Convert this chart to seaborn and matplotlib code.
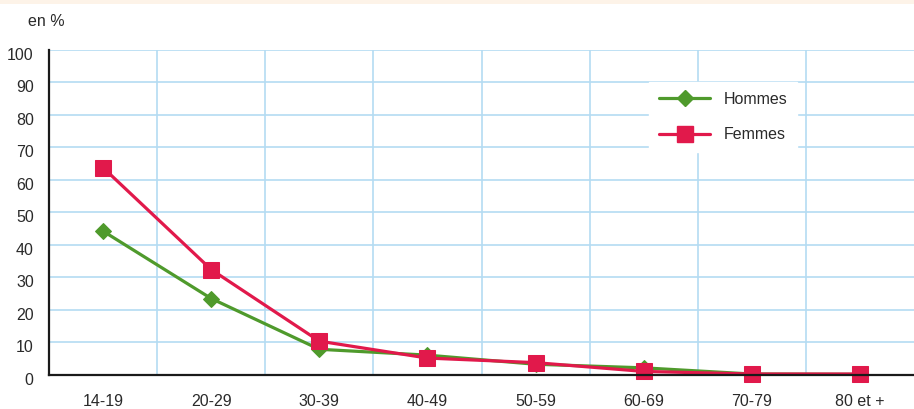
import matplotlib
matplotlib.use("Agg")
import matplotlib.pyplot as plt
import matplotlib.patches as mpatches
from matplotlib.lines import Line2D
from matplotlib.transforms import ScaledTranslation
import seaborn as sns
import pandas as pd

# Age groups and share (%) per sex
age_groups = ["14-19", "20-29", "30-39", "40-49", "50-59", "60-69", "70-79", "80 et +"]
hommes = [44.2, 23.5, 7.9, 6.1, 3.3, 2.2, 0.3, 0.2]
femmes = [63.7, 32.4, 10.4, 5.2, 3.8, 1.1, 0.3, 0.3]
y_ticks = list(range(0, 101, 10))

df = pd.DataFrame({
    "age": age_groups * 2,
    "pos": list(range(len(age_groups))) * 2,
    "valeur": hommes + femmes,
    "sexe": ["Hommes"] * len(hommes) + ["Femmes"] * len(femmes),
})

sns.set_theme(style="white")
plt.rcParams["font.family"] = ["Liberation Sans Narrow", "Liberation Sans", "DejaVu Sans"]

GREEN = "#4f9a2c"
RED = "#e1194b"
GRID = "#b4dcf2"
TEXT = "#2a2a2a"
FS = 11.5

fig = plt.figure(figsize=(9.14, 4.09), dpi=100)
ax = fig.add_axes([49 / 914, 1 - 375 / 409, 1 - 49 / 914, (375 - 49.5) / 409])

# light header band at the very top
fig.patches.append(mpatches.Rectangle((0, 1 - 4 / 409), 1, 4 / 409,
                                      transform=fig.transFigure,
                                      facecolor="#fdf3e8", edgecolor="none"))

sns.lineplot(data=df, x="pos", y="valeur", hue="sexe", style="sexe",
             palette={"Hommes": GREEN, "Femmes": RED},
             markers={"Hommes": "D", "Femmes": "s"}, dashes=False,
             linewidth=2.3, ax=ax, legend=False, zorder=3)

for line in ax.lines:
    col = line.get_color()
    line.set_markeredgecolor(col)
    line.set_markerfacecolor(col)
    line.set_markersize(11 if line.get_marker() == "s" else 8)
    line.set_clip_on(False)

ax.set_xlim(-0.5, len(age_groups) - 0.5)
ax.set_ylim(0, 100)
ax.set_xticks(range(len(age_groups)))
ax.set_xticklabels(age_groups)
ax.set_xticks([i + 0.5 for i in range(len(age_groups) - 1)], minor=True)
ax.set_yticks(y_ticks)
ax.set_yticklabels([str(v) for v in y_ticks])

ax.grid(False)
ax.grid(True, axis="y", which="major", color=GRID, linewidth=1.2, zorder=0)
ax.grid(True, axis="x", which="minor", color=GRID, linewidth=1.2, zorder=0)
ax.set_axisbelow(True)

ax.tick_params(axis="both", which="both", length=0, labelsize=FS, colors=TEXT)
ax.tick_params(axis="y", pad=11)
ax.tick_params(axis="x", pad=14)
ax.set_xlabel("")
ax.set_ylabel("")

# value labels sit a little below their gridlines
shift = ScaledTranslation(0, -4 / 100, fig.dpi_scale_trans)
for lab in ax.get_yticklabels():
    lab.set_transform(lab.get_transform() + shift)

for side in ["top", "right"]:
    ax.spines[side].set_visible(False)
for side in ["left", "bottom"]:
    ax.spines[side].set_visible(True)
    ax.spines[side].set_color("#1a1a1a")
    ax.spines[side].set_linewidth(1.6)
    ax.spines[side].set_zorder(4)

fig.text(28 / 914, 1 - 22 / 409, "en %", fontsize=FS, color=TEXT, va="center", ha="left")

# legend
handles = [
    Line2D([], [], color=GREEN, marker="D", markersize=8, linewidth=2.3),
    Line2D([], [], color=RED, marker="s", markersize=11, linewidth=2.3),
]
leg = ax.legend(handles, ["Hommes", "Femmes"], loc="upper left",
                bbox_to_anchor=((649 - 49) / 865, 1 - (82 - 49.5) / 325.5),
                borderaxespad=0,
                frameon=True, facecolor="white", edgecolor="white", framealpha=1,
                fontsize=FS, handlelength=3.25, handletextpad=0.8,
                labelspacing=1.3, borderpad=0.6, fancybox=False)
for t in leg.get_texts():
    t.set_color(TEXT)

fig.savefig("out.png", dpi=100)
